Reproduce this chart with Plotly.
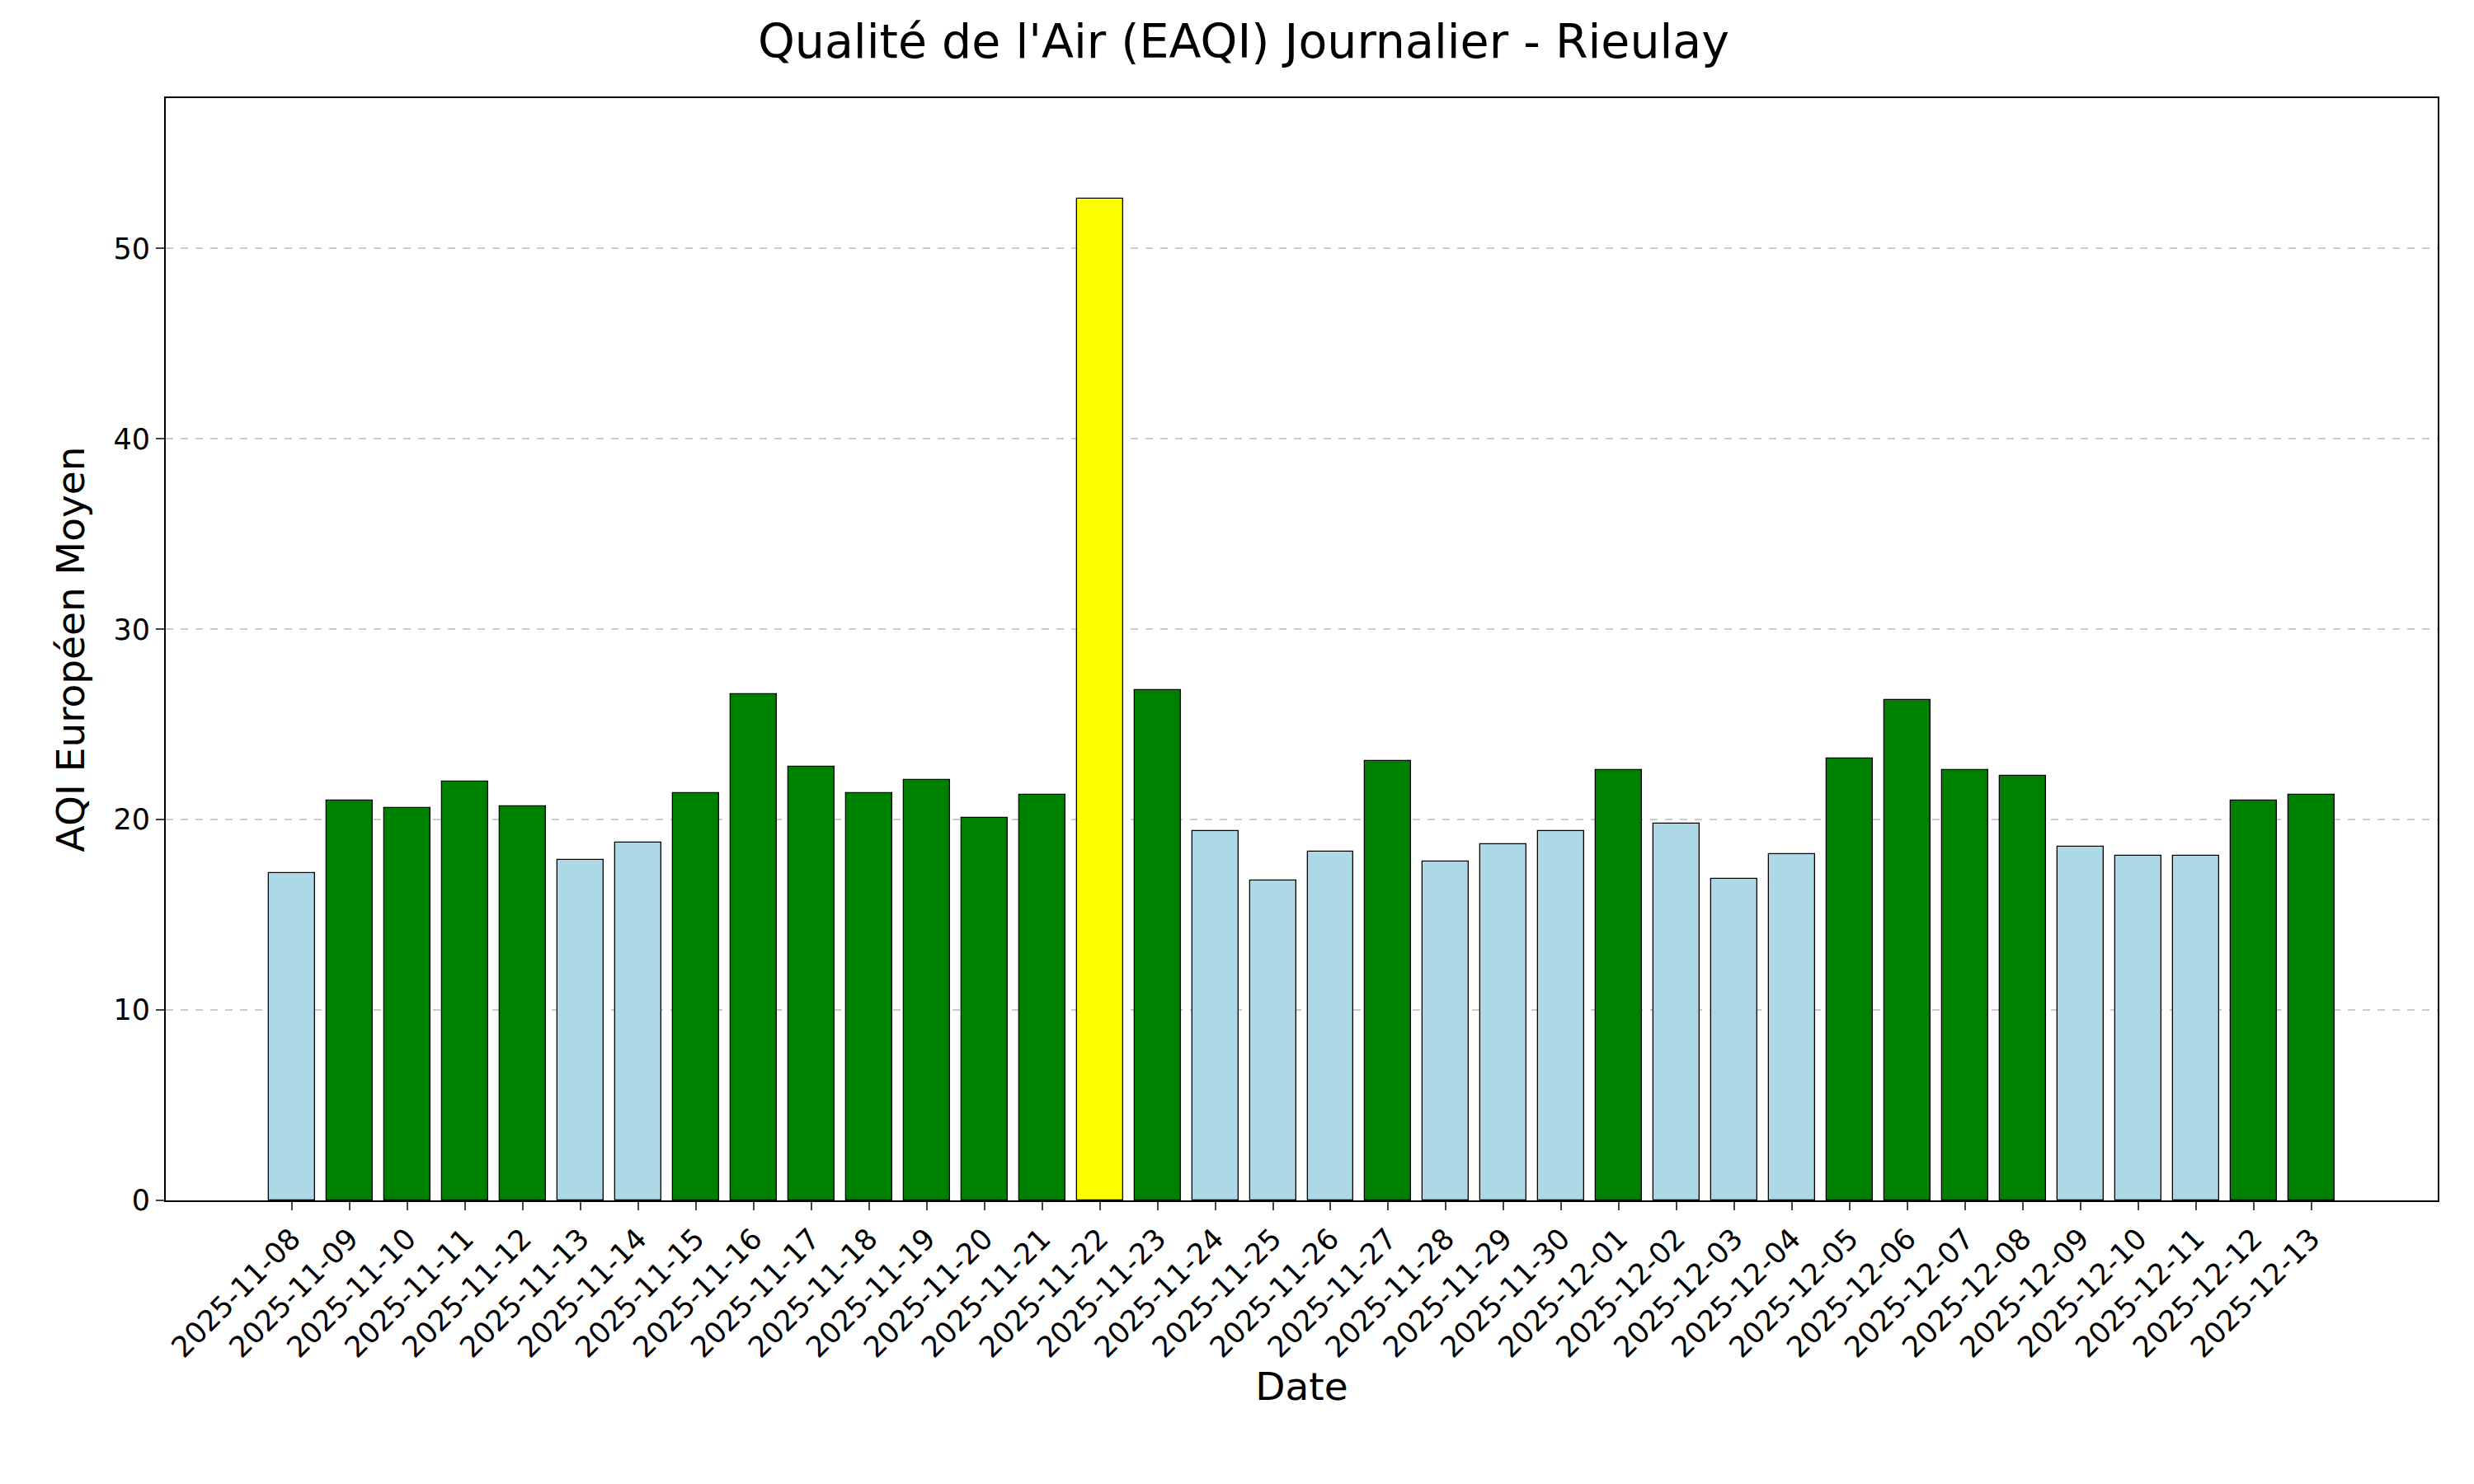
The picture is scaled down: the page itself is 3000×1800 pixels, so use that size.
import plotly.graph_objects as go
import pandas as pd

dates = [d.strftime("%Y-%m-%d") for d in pd.date_range("2025-11-08", "2025-12-13")]
aqi = [17.2, 21.0, 20.6, 22.0, 20.7, 17.9, 18.8, 21.4, 26.6, 22.8, 21.4, 22.1,
       20.1, 21.3, 52.6, 26.8, 19.4, 16.8, 18.3, 23.1, 17.8, 18.7, 19.4, 22.6,
       19.8, 16.9, 18.2, 23.2, 26.3, 22.6, 22.3, 18.6, 18.1, 18.1, 21.0, 21.3]


def eaqi_color(v):
    if v > 50:
        return "yellow"
    if v > 20:
        return "green"
    return "lightblue"


colors = [eaqi_color(v) for v in aqi]
x = list(range(len(dates)))

fig = go.Figure(go.Bar(
    x=x, y=aqi, width=0.8,
    marker=dict(color=colors, line=dict(color="black", width=1.3)),
))

font = "DejaVu Sans"
fig.update_layout(
    width=3000, height=1800,
    plot_bgcolor="white", paper_bgcolor="white",
    margin=dict(l=193, r=52, t=111, b=352),
    font=dict(family=font, size=35, color="black"),
    title=dict(text="Qualité de l'Air (EAQI) Journalier - Rieulay", x=0.5, xanchor="center",
               y=1 - 42 / 1800, yanchor="middle", font=dict(size=57)),
    showlegend=False, bargap=0,
)
fig.update_xaxes(
    range=[-2.19, 37.19], tickmode="array", tickvals=x, ticktext=dates, tickangle=-45,
    showgrid=False, showline=True, linecolor="black", linewidth=2, mirror=True,
    ticks="outside", ticklen=10, tickwidth=2, zeroline=False,
    title=dict(text="Date", font=dict(size=47), standoff=10),
)
fig.update_yaxes(
    range=[0, 57.9], tickvals=[0, 10, 20, 30, 40, 50],
    showgrid=True, gridcolor="rgba(0,0,0,0.2)", griddash="dash", gridwidth=2,
    showline=True, linecolor="black", linewidth=2, mirror=True,
    ticks="outside", ticklen=10, tickwidth=2, zeroline=False,
    title=dict(text="AQI Européen Moyen", font=dict(size=47), standoff=20),
)

fig.write_html("out.html")
